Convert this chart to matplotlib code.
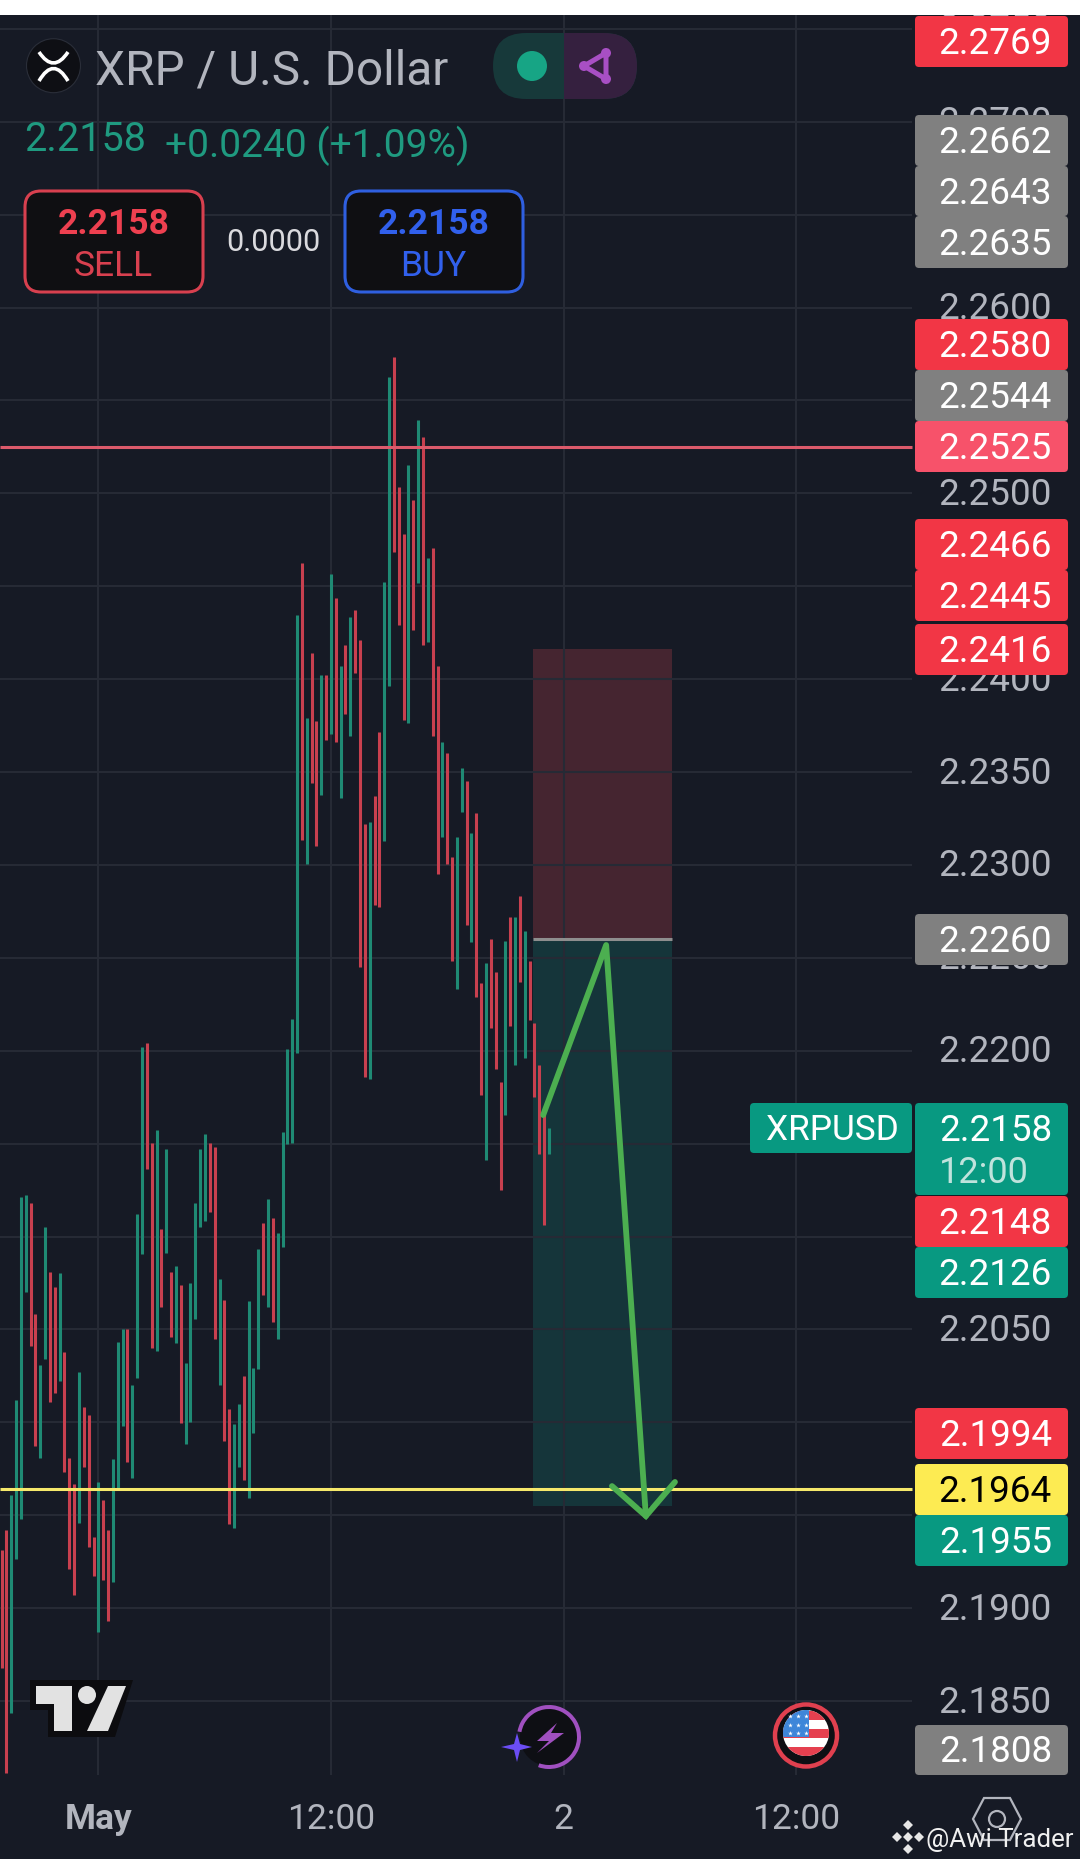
"""XRP / U.S. Dollar 15m chart with position box and price tags."""
import matplotlib
matplotlib.use("Agg")
import matplotlib.pyplot as plt
from matplotlib.patches import Circle, FancyBboxPatch, PathPatch, Polygon, Rectangle, Wedge
from matplotlib.path import Path
from matplotlib.transforms import ScaledTranslation

plt.rcParams["font.family"] = ["Roboto", "DejaVu Sans"]

# ---- colours ----
BG = "#161A25"
GRID = "#262A35"
RED = "#C8404F"
GREEN = "#1F8A74"
AXIS_TXT = "#B2B5BE"
TAG_RED = "#F23645"
TAG_GREEN = "#089981"
TAG_GRAY = "#808080"
TAG_PINK = "#F7526A"
TAG_YELLOW = "#FDEB52"
ARROW = "#4CAF50"

# ---- candles, bar 0 is 1 May 00:00 (15 minute bars), high to low ----
bar_first = -20
bar_side = list("rrggggrrgg" "rrgrrrgrrr" "grrgggrggg" "rrgrgrgrgg" "gggrrgrrgg"
                "rgggrgrggg" "ggrgrrgrgr" "grgrrrgrrg" "grrrgrgrgr" "rgrrggrgrr"
                "grrrgrgrgr" "rrrg")
bar_high = [2.19313, 2.19421, 2.19609, 2.20120, 2.21212, 2.21223, 2.21180, 2.20583, 2.20308, 2.21051,
            2.20809, 2.20728, 2.20803, 2.20378, 2.19808, 2.19668, 2.20271, 2.20082, 2.20039, 2.19383,
            2.19679, 2.19582, 2.19421, 2.19803, 2.20432, 2.20502, 2.20502, 2.20201, 2.21121, 2.22020,
            2.22042, 2.21504, 2.21574, 2.21040, 2.21471, 2.20809, 2.20841, 2.20739, 2.20319, 2.20749,
            2.21180, 2.21471, 2.21552, 2.21504, 2.21482, 2.20771, 2.20658, 2.20072, 2.19991, 2.20098,
            2.20249, 2.20653, 2.20292, 2.20933, 2.21072, 2.21201, 2.21099, 2.21018, 2.21563, 2.22009,
            2.22171, 2.24345, 2.24625, 2.23791, 2.24140, 2.23775, 2.24022, 2.24022, 2.24566, 2.24437,
            2.24071, 2.24184, 2.24334, 2.24372, 2.24210, 2.23220, 2.23231, 2.23371, 2.23716, 2.24523,
            2.25626, 2.25734, 2.25034, 2.24781, 2.25152, 2.24964, 2.25394, 2.25303, 2.24652, 2.24706,
            2.24071, 2.23662, 2.23603, 2.23043, 2.23151, 2.23522, 2.23452, 2.23172, 2.23280, 2.22365,
            2.22473, 2.22602, 2.22424, 2.21832, 2.22591, 2.22720, 2.22720, 2.22833, 2.22644, 2.22483,
            2.22149, 2.21923, 2.21697, 2.21584]
bar_low = [2.18678, 2.18113, 2.18436, 2.19265, 2.19480, 2.20701, 2.20410, 2.19873, 2.19808, 2.20341,
           2.20109, 2.20158, 2.20222, 2.19733, 2.19211, 2.19071, 2.19458, 2.19760, 2.19329, 2.19173,
           2.18872, 2.19152, 2.18931, 2.19141, 2.19647, 2.19980, 2.19787, 2.19701, 2.20238, 2.20906,
           2.21363, 2.20400, 2.20384, 2.20620, 2.20911, 2.20459, 2.20427, 2.19996, 2.19883, 2.20002,
           2.20556, 2.21051, 2.21083, 2.21131, 2.20448, 2.20201, 2.19899, 2.19453, 2.19431, 2.19760,
           2.19690, 2.19593, 2.19942, 2.20287, 2.20685, 2.20620, 2.20540, 2.20448, 2.20944, 2.21498,
           2.21504, 2.21988, 2.23134, 2.23005, 2.23441, 2.23102, 2.23376, 2.23673, 2.23705, 2.23662,
           2.23360, 2.23812, 2.23694, 2.24033, 2.22451, 2.21859, 2.21848, 2.22784, 2.22773, 2.23128,
           2.23963, 2.24685, 2.24292, 2.23780, 2.23764, 2.24265, 2.24517, 2.24184, 2.24200, 2.23694,
           2.22952, 2.23151, 2.23005, 2.22483, 2.22332, 2.23285, 2.22677, 2.22586, 2.22289, 2.21762,
           2.21413, 2.22122, 2.21902, 2.21250, 2.21654, 2.22133, 2.21923, 2.22370, 2.21961, 2.22165,
           2.21751, 2.21444, 2.21062, 2.21444]

# ---- price scale ----
price_ticks = [2.275, 2.27, 2.265, 2.26, 2.255, 2.25, 2.245, 2.24, 2.235, 2.23, 2.225,
               2.22, 2.215, 2.21, 2.205, 2.20, 2.195, 2.19, 2.185]
time_ticks = [0, 48, 96, 144]
time_labels = ["May", "12:00", "2", "12:00"]

# ---- drawings ----
resistance = 2.2525
support = 2.1964
pos_start, pos_end = 89.7, 118.4
pos_stop, pos_entry, pos_target = 2.2416, 2.2260, 2.1955
path_x = [91.8, 104.8, 113.0]
path_y = [2.21654, 2.22569, 2.19496]
head_x = [106.0, 113.0, 119.0]
head_y = [2.19657, 2.19496, 2.19679]

# ---- right-hand tags: text, colour, top and bottom of the tag ----
tag_text = ["2.2769", "2.2662", "2.2643", "2.2635", "2.2580", "2.2544", "2.2525", "2.2466", "2.2445",
            "2.2416", "2.2260", "2.2148", "2.2126", "2.1994", "2.1964", "2.1955", "2.1808"]
tag_color = [TAG_RED, TAG_GRAY, TAG_GRAY, TAG_GRAY, TAG_RED, TAG_GRAY, TAG_PINK, TAG_RED, TAG_RED,
             TAG_RED, TAG_GRAY, TAG_RED, TAG_GREEN, TAG_RED, TAG_YELLOW, TAG_GREEN, TAG_GRAY]
tag_top = [16, 115, 166, 216, 319, 370, 421, 519, 570, 624, 914, 1196, 1247, 1408, 1464, 1515, 1725]
tag_bot = [67, 166, 216, 268, 370, 421, 472, 570, 621, 675, 965, 1247, 1298, 1459, 1515, 1566, 1775]

fig = plt.figure(figsize=(10.8, 18.59), dpi=100, facecolor=BG)
ax = fig.add_axes([0, 0, 1, 1], facecolor=BG)
for s in ax.spines.values():
    s.set_visible(False)

left_edge, right_edge = -20.31, 167.97
ax.hlines(price_ticks, left_edge, right_edge, color=GRID, lw=1.5, zorder=1.5)
ax.vlines(time_ticks, 2.18102, 2.27655, color=GRID, lw=1.5, zorder=1.5)

ax.yaxis.tick_right()
ax.set_yticks(price_ticks, [f"{p:.4f}" for p in price_ticks])
ax.tick_params(axis="y", length=0, pad=-102.3, labelsize=26.6, labelcolor=AXIS_TXT)
for t in ax.get_yticklabels():
    t.set_transform(t.get_transform() + ScaledTranslation(0, 2.5 / 100, fig.dpi_scale_trans))
ax.set_xticks(time_ticks, time_labels)
ax.tick_params(axis="x", length=0, pad=-40.5, labelsize=25.5, labelcolor=AXIS_TXT)
ax.get_xticklabels()[0].set_fontweight("bold")

# position box
ax.add_patch(Rectangle((pos_start, pos_entry), pos_end - pos_start, pos_stop - pos_entry,
                       color="#452530", lw=0, zorder=1))
ax.add_patch(Rectangle((pos_start, pos_target), pos_end - pos_start, pos_entry - pos_target,
                       color="#15353A", lw=0, zorder=1))
ax.hlines(pos_entry, pos_start, pos_end, color="#8E8E8E", lw=2.2, zorder=1.6)

# candles
for n, (hi, lo, side) in enumerate(zip(bar_high, bar_low, bar_side)):
    ax.vlines(bar_first + n, lo, hi, color=RED if side == "r" else GREEN, lw=2.2, zorder=2)

ax.hlines(resistance, left_edge, right_edge, color="#DC5A6B", lw=2.2, zorder=2.2)
ax.hlines(support, left_edge, right_edge, color="#F6E96B", lw=2.2, zorder=2.2)
ax.plot(path_x, path_y, color=ARROW, lw=4.2, solid_capstyle="round", solid_joinstyle="round", zorder=3)
ax.plot(head_x, head_y, color=ARROW, lw=4.2, solid_capstyle="round", solid_joinstyle="miter", zorder=3)

ax.set_xlim(-20.31, 202.6)
ax.set_ylim(2.1765, 2.27655)

# ---- overlay in pixels for the app furniture ----
ui = fig.add_axes([0, 0, 1, 1], facecolor="none")
ui.set_xlim(0, 1080)
ui.set_ylim(1859, 0)
ui.axis("off")


def rbox(x0, y0, x1, y1, r, **kw):
    ui.add_patch(FancyBboxPatch((x0 + r, y0 + r), x1 - x0 - 2 * r, y1 - y0 - 2 * r,
                                boxstyle=f"round,pad={r}", **kw))


def label(x, y, s, size, color, ha="center", weight="normal"):
    ui.text(x, y, s, fontsize=size, color=color, ha=ha, va="center_baseline", fontweight=weight)


ui.add_patch(Rectangle((0, 0), 1080, 15, color="white", lw=0, zorder=9))

# tags
for txt, col, top, bot in zip(tag_text, tag_color, tag_top, tag_bot):
    rbox(915, top, 1068, bot, 4, fc=col, ec="none")
    label(1052, (top + bot) / 2 - 1.5, txt, 26.6, "black" if col == TAG_YELLOW else "white", ha="right")
rbox(915, 1103, 1068, 1195, 4, fc=TAG_GREEN, ec="none")
label(1052, 1127, "2.2158", 26.6, "white", ha="right")
label(1029, 1169, "12:00", 26, "#BFE3DC", ha="right")
rbox(750, 1103, 912, 1153, 4, fc=TAG_GREEN, ec="none")
label(832, 1127, "XRPUSD", 25.4, "white")

# header
ui.add_patch(Circle((53.5, 65.7), 27, fc="#0E0F14", ec="#2A2E39", lw=0.8))
for start, ctrl, end in [((39, 52), (53.5, 74), (68, 52)), ((39, 81), (53.5, 56), (68, 81))]:
    ui.add_patch(PathPatch(Path([start, ctrl, end], [Path.MOVETO, Path.CURVE3, Path.CURVE3]),
                           fc="none", ec="white", lw=2.6))
label(95, 66, "XRP / U.S. Dollar", 34.4, AXIS_TXT, ha="left")
label(24, 135, "2.2158", 28.5, "#1F9A80", ha="left")
label(165, 141, "+0.0240 (+1.09%)", 28, "#1F9A80", ha="left")

# status pill
rbox(493, 33, 637, 99, 33, fc="#17393A", ec="none")
pill = FancyBboxPatch((526, 66), 78, 0, boxstyle="round,pad=33", fc="#35203F", ec="none")
ui.add_patch(pill)
pill.set_clip_path(Rectangle((564, 0), 200, 200, transform=ui.transData))
ui.add_patch(Circle((532, 66), 15, fc="#17A585", ec="none"))
ui.add_patch(Polygon([(606, 53), (584, 66), (606, 79)], closed=True, fc="none", ec="#A84FC4", lw=3.6))
for c in [(606, 53), (584, 66), (606, 79)]:
    ui.add_patch(Circle(c, 5, fc="#A84FC4", ec="none"))

# sell / buy
rbox(25, 191, 203, 292, 16, fc="#0F0F12", ec="#D8404F", lw=2.2)
label(114, 221, "2.2158", 25.5, "#EE4050", weight="bold")
label(113, 263, "SELL", 25.5, "#D8404F")
rbox(345, 191, 523, 292, 16, fc="#0F0F12", ec="#2F5FE0", lw=2.2)
label(434, 221, "2.2158", 25.5, "#3160EC", weight="bold")
label(433, 263, "BUY", 25.5, "#3160EC")
label(273, 239, "0.0000", 22, "#DADADE")

# tradingview logo
ui.add_patch(Polygon([(30, 1680), (133, 1680), (115, 1737), (48, 1737), (48, 1710), (30, 1710)],
                     closed=True, fc="#0C0C0F", ec="none"))
ui.add_patch(Polygon([(36, 1686), (72, 1686), (72, 1731), (54, 1731), (54, 1704), (36, 1704)],
                     closed=True, fc="#E2E2E2", ec="none"))
ui.add_patch(Circle((87, 1695), 9, fc="#E2E2E2", ec="none"))
ui.add_patch(Polygon([(108, 1686), (126, 1686), (108, 1731), (87, 1731)], closed=True, fc="#E2E2E2", ec="none"))

# lightning badge
ui.add_patch(Circle((549, 1737), 29, fc="#0E0F14", ec="none"))
ui.add_patch(Wedge((549, 1737), 32, -170, 110, width=4, fc="#A050C0", ec="none"))
ui.add_patch(Polygon([(557, 1723), (537, 1741), (549, 1741), (537, 1753), (564, 1733), (551, 1733)],
                     closed=True, fc="#A050C0", ec="none"))
ui.add_patch(Polygon([(517, 1733), (520, 1744), (532, 1747), (520, 1750), (517, 1762), (514, 1750),
                      (501, 1747), (514, 1744)], closed=True, fc="#6B4DF5", ec="none"))

# flag badge
ui.add_patch(Circle((806, 1735.5), 31, fc="#0E0F14", ec="#E0404F", lw=3.2))
disc = Circle((806, 1733), 23, fc="white", ec="none")
ui.add_patch(disc)
for stripe_y in [1711, 1729, 1747]:
    st = Rectangle((780, stripe_y), 52, 9, color="#E5404F", lw=0)
    ui.add_patch(st)
    st.set_clip_path(disc)
canton = Rectangle((780, 1708), 29, 29, color="#3E86D9", lw=0)
ui.add_patch(canton)
canton.set_clip_path(disc)
ui.scatter([790, 798, 806, 790, 798, 806, 790, 798, 806], [1716, 1716, 1716, 1725, 1725, 1725, 1733, 1733, 1733],
           s=12, marker="*", color="white", lw=0, zorder=3)

# settings hexagon
ui.add_patch(Polygon([(984, 1798), (1010, 1798), (1021, 1819), (1010, 1840), (984, 1840), (973, 1819)],
                     closed=True, fc="none", ec=AXIS_TXT, lw=1.6))
ui.add_patch(Circle((997, 1819), 8, fc="none", ec=AXIS_TXT, lw=1.6))

# watermark
for dx, dy, r in [(0, -12, 5), (-11, 0, 5), (11, 0, 5), (0, 12, 5), (0, 0, 5)]:
    ui.add_patch(Polygon([(908 + dx, 1837 + dy - r), (908 + dx + r, 1837 + dy), (908 + dx, 1837 + dy + r),
                          (908 + dx - r, 1837 + dy)], closed=True, fc="#E6E6E6", ec="none"))
label(926, 1837, "@Awi Trader", 18.6, "#F0F0F0", ha="left")

fig.savefig("out.png", dpi=100)
